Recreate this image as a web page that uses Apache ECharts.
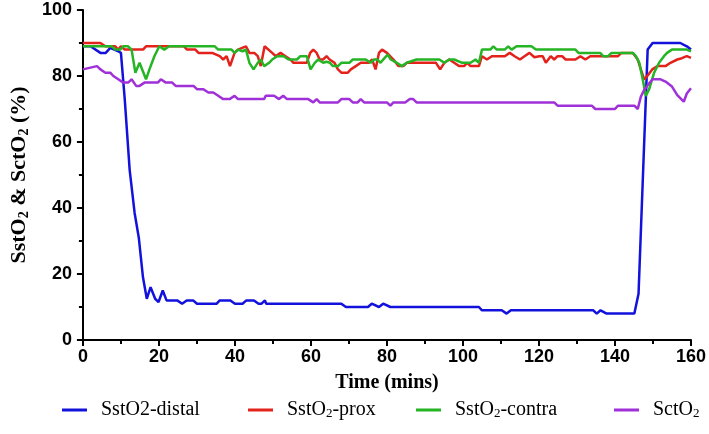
<!DOCTYPE html>
<html>
<head>
<meta charset="utf-8">
<script src="https://cdn.jsdelivr.net/npm/echarts@6/dist/echarts.min.js"></script>
<style>html,body{margin:0;padding:0;background:#fff}#c{width:709px;height:434px}</style>
</head>
<body>
<div id="c"></div>
<script>
// ---- data (time in mins, value in %) ----
const seriesNames = ['SstO2-distal', 'SstO2-prox', 'SstO2-contra', 'SctO2'];
const xTicks = [0, 20, 40, 60, 80, 100, 120, 140, 160];
const yTicks = [0, 20, 40, 60, 80, 100];

const distal = [[0,89],[2,89],[4.6,87],[6,87],[7.2,88.5],[9.3,87.5],[10,87],[11,73],[12.3,51.5],[13.6,38.5],[14.7,31],[15.8,19],[16.8,12.5],[17.8,16],[19,12.5],[19.9,11.5],[21,15],[22,12],[24.8,12],[26.1,11],[27.3,12],[29,12],[30,11],[35.2,11],[36,12],[38.8,12],[40,11],[42,11],[43,12],[45,12],[46.2,11],[47,11],[47.9,12],[48.2,11],[68,11],[69.2,10],[75,10],[76,11],[77.9,10],[79,11],[80.9,10],[104.2,10],[105,9],[110.2,9],[111.5,8],[112.6,9],[134.3,9],[135.2,8],[136.2,9],[137.8,8],[145.1,8],[146.2,14],[148.6,88],[149.9,90],[157.2,90],[158,89.5],[158.9,89],[160,88]];

const prox = [[0,90],[4.6,90],[5.9,89],[8.5,89],[9.3,88],[10,89],[11,88],[15.8,88],[16.6,89],[26.6,89],[27.4,88],[29.6,88],[30.4,87],[33,87],[34,87],[36,86],[36.9,85],[37.8,86],[38.7,83],[39.9,87],[40.8,88],[42.9,89],[43.8,87],[45.1,87],[46,86],[46.8,83],[47.8,89],[49.8,87],[50.7,86],[52,87],[53.3,86],[54.6,85],[55.4,84],[58,84],[58.9,84],[59.8,87],[60.6,88],[61.5,87],[62.3,85],[63.2,85],[64.1,86],[64.9,85],[66.2,84],[67.1,82],[68,81],[69.7,81],[70.5,82],[71.8,83],[73.1,84],[74.4,84],[75.2,84],[76.1,85],[77,82],[77.9,87],[78.7,88],[80,87],[80.5,87],[81.7,85],[83,83],[84.3,83],[85.2,84],[92.9,84],[94,82],[95.1,84],[96.4,85],[97.7,84],[99,83],[100.3,83],[101.1,84],[102,83],[104.2,83],[105,86],[106.3,85],[107.6,86],[111,86],[112.3,87],[113.6,86],[115,85],[116.2,86],[117.5,87],[118.8,85.7],[120.1,86],[121,86],[121.8,84],[123.1,86],[124,85],[124.9,86],[126.1,86],[127,85],[129.6,85],[130.9,86],[132.2,85],[133.5,86],[140.8,86],[141.7,87],[144.7,87],[146,85],[146.8,82],[147.7,79],[148.5,80],[149.8,82],[151.2,83],[153.3,83],[154.6,84],[156.4,85],[157.6,85.4],[158.9,86],[160,85.5]];

const contra = [[0,89],[4.6,89],[7.6,89],[8.5,88],[9.8,88],[10.6,89],[11.9,89],[12.8,88],[13.8,81],[14.9,84],[16.6,79],[17.5,82],[18.8,86],[20.1,89],[21.4,88],[22.7,89],[34.7,89],[35.6,88],[39.1,88],[39.9,87],[40.8,88],[42,87.5],[42.9,88],[43.8,84],[44.9,82],[46,84],[46.8,85],[47.7,83],[49,84],[49.8,85],[51.1,86],[52.8,86],[54.1,85],[56.3,85],[57.2,86],[58.9,86],[59.9,82],[61,84],[61.9,85],[63.2,84],[64.1,84.3],[65,84],[65.8,83],[67.1,83],[68,84],[70.1,84],[71,85],[73.5,85],[74.4,85],[75.7,84],[76.6,85],[77.5,85],[78.3,84],[79.4,85.5],[80.2,86.5],[81,85],[82.6,84],[83.9,83],[85.2,84],[87.8,85],[93.8,85],[95.1,84],[96.4,85],[97.7,85],[99.8,84],[102,84],[103.3,85],[104.2,84],[105,88],[107.2,88],[108,89],[108.9,88],[111,88],[111.9,89],[112.8,88],[114.1,89],[118,89],[119.2,88],[129.6,88],[130.4,87],[136.1,87],[136.9,86],[138.2,86],[139.1,87],[144.7,87],[145.5,86],[146.4,84],[147.3,79],[148.1,74],[149,76],[150.3,81],[151.6,84],[152.9,86],[153.7,87],[155,88],[158.9,88],[160,87.5]];

const sct = [[0,82],[3.7,83],[4.6,82],[5.9,81],[7.2,81],[8,80],[9.3,79],[10.6,78],[11.9,78],[12.8,79],[14,77],[14.9,77],[16.2,78],[19.7,78],[20.5,79],[21.8,78],[23.5,78],[24.4,77],[29.1,77],[30,76],[31.7,76],[33,75],[34.3,75],[35.6,74],[36.9,73],[38.6,73],[39.9,74],[40.8,73],[47.7,73],[48.1,74],[50.3,74],[51.6,73],[52.7,74],[53.7,73],[59.3,73],[60.6,72],[61.5,73],[62.3,72],[67.1,72],[68,73],[70.1,73],[71,72],[72.3,72],[73.1,73],[74,72],[80,72],[80.9,71],[81.7,72],[84.8,72],[86,73],[86.9,73],[87.8,72],[124,72],[124.9,71],[133.9,71],[134.8,70],[140,70],[140.8,71],[145.1,71],[146,70],[146.8,73.7],[147.7,75.8],[149,77.8],[149.9,79],[152,79],[153.3,78.3],[155,76.8],[156.4,74.2],[158.1,72.2],[158.9,74.7],[160,76.3]];

const colors = ['#1212dc', '#e4221c', '#24b424', '#a030d8'];
const seriesData = [distal, prox, contra, sct];

// legend label markup (subscript 2 except for the first item)
const legendRich = {
  'SstO2-distal': 'SstO2-distal',
  'SstO2-prox': 'SstO{s|2}-prox',
  'SstO2-contra': 'SstO{s|2}-contra',
  'SctO2': 'SctO{s|2}'
};

const serif = '"Liberation Serif","Times New Roman",serif';
const sans = '"Liberation Sans",Arial,sans-serif';

const chart = echarts.init(document.getElementById('c'), null, {renderer: 'canvas'});

const legendLefts = [57, 243, 411, 609];

const option = {
  backgroundColor: '#fff',
  animation: false,
  grid: {left: 74, right: 16, top: 10, bottom: 94, containLabel: false},
  legend: seriesNames.map((n, i) => ({
    data: [n],
    left: legendLefts[i],
    top: 395,
    icon: 'rect',
    itemWidth: 25,
    itemHeight: 3,
    selectedMode: false,
    formatter: name => legendRich[name],
    textStyle: {
      fontFamily: serif, fontSize: 20, color: '#000', padding: [0, 0, 0, 9],
      rich: {s: {fontFamily: serif, fontSize: 13, verticalAlign: 'bottom', lineHeight: 8, padding: [0, 0, 0, 0]}}
    }
  })),
  xAxis: {
    type: 'value', min: xTicks[0], max: xTicks[xTicks.length - 1], interval: 20,
    name: 'Time (mins)', nameLocation: 'middle', nameGap: 33,
    nameTextStyle: {fontFamily: serif, fontWeight: 'bold', fontSize: 20, color: '#000'},
    axisLine: {show: true, onZero: false, lineStyle: {color: '#000', width: 2}},
    axisTick: {show: true, length: 6, lineStyle: {color: '#000', width: 2}},
    minorTick: {show: true, splitNumber: 2, length: 4, lineStyle: {color: '#000', width: 2}},
    splitLine: {show: false},
    axisLabel: {margin: 8, fontFamily: sans, fontWeight: 'bold', fontSize: 18, color: '#000'}
  },
  yAxis: {
    type: 'value', min: yTicks[0], max: yTicks[yTicks.length - 1], interval: 20,
    name: '{b|SstO}{s|2}{b| & SctO}{s|2}{b| (%)}', nameLocation: 'middle', nameGap: 51, nameRotate: 90,
    nameTextStyle: {
      fontFamily: serif, fontWeight: 'bold', fontSize: 22, color: '#000',
      rich: {
        b: {fontFamily: serif, fontWeight: 'bold', fontSize: 22, color: '#000', lineHeight: 24},
        s: {fontFamily: serif, fontWeight: 'bold', fontSize: 14, color: '#000', verticalAlign: 'bottom', lineHeight: 8}
      }
    },
    axisLine: {show: true, lineStyle: {color: '#000', width: 2}},
    axisTick: {show: true, length: 6, lineStyle: {color: '#000', width: 2}},
    minorTick: {show: true, splitNumber: 2, length: 4, lineStyle: {color: '#000', width: 2}},
    splitLine: {show: false},
    axisLabel: {margin: 11, fontFamily: sans, fontWeight: 'bold', fontSize: 18, color: '#000'}
  },
  series: seriesNames.map((n, i) => ({
    name: n, type: 'line', data: seriesData[i], showSymbol: false, symbol: 'none',
    color: colors[i],
    lineStyle: {color: colors[i], width: 2.5},
    z: 2 + i
  }))
};
chart.setOption(option);
</script>
</body>
</html>
